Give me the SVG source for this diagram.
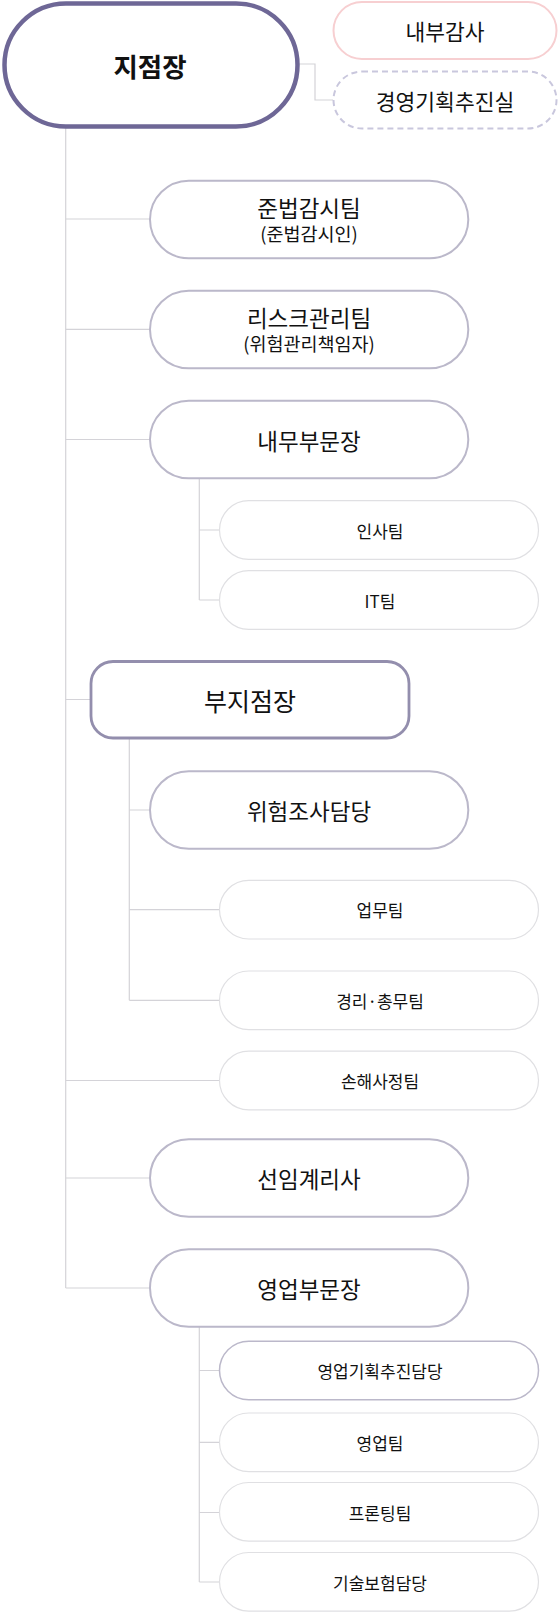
<svg xmlns="http://www.w3.org/2000/svg" width="559" height="1621" viewBox="0 0 559 1621">
<style>
text{font-family:"Noto Sans CJK KR","Noto Sans",sans-serif;fill:#111;text-anchor:middle;dominant-baseline:central}
.m rect{fill:#fff;stroke:#bbb8ca;stroke-width:2}
.s rect{fill:#fff;stroke:#e0e0e3;stroke-width:1.2}
.m text{font-size:22.5px}
.s text{font-size:17px}
.c{fill:none;stroke:#d4d3d8;stroke-width:1.2}
</style>
<rect width="559" height="1621" fill="#fff"/>
<g id="connectors">
<path class="c" d="M298 64H315V100H333"/>
<path class="c" d="M65.7 127V1288"/>
<path class="c" d="M65.7 219H150M65.7 329.3H150M65.7 439.5H150M65.7 699.5H90M65.7 1080.5H219.5M65.7 1178H150M65.7 1288H150"/>
<path class="c" d="M199.3 478.3V600M199.3 530H219.5M199.3 600H219.5"/>
<path class="c" d="M129.3 738.3V1000.3M129.3 810H150M129.3 909.7H219.5M129.3 1000.3H219.5"/>
<path class="c" d="M199.3 1327V1582M199.3 1370.5H219.5M199.3 1442.3H219.5M199.3 1512.5H219.5M199.3 1582H219.5"/>
</g>
<g id="n-jijeomjang">
<rect x="4.5" y="3.5" width="293" height="123" rx="61.5" fill="#fff" stroke="#6e6796" stroke-width="4.5"/>
<text x="150" y="65" style="font-size:26.5px;font-weight:700">지점장</text>
</g>
<g id="n-audit">
<rect x="333.5" y="2" width="223" height="57" rx="28.5" fill="#fff" stroke="#f7cfd1" stroke-width="2"/>
<text x="445" y="30.5" style="font-size:21.5px">내부감사</text>
</g>
<g id="n-mgmt">
<rect x="333.5" y="71.5" width="223" height="57" rx="28.5" fill="#fff" stroke="#c9c7dd" stroke-width="2" stroke-dasharray="6 4"/>
<text x="445" y="100" style="font-size:21.5px">경영기획추진실</text>
</g>
<g id="n-compliance" class="m">
<rect x="150" y="180.7" width="318.3" height="77.6" rx="38.8"/>
<text x="309" y="206.5">준법감시팀</text>
<text x="309" y="233" style="font-size:18.5px">(준법감시인)</text>
</g>
<g id="n-risk" class="m">
<rect x="150" y="290.7" width="318.3" height="77.6" rx="38.8"/>
<text x="309" y="316.5">리스크관리팀</text>
<text x="309" y="343" style="font-size:18.5px">(위험관리책임자)</text>
</g>
<g id="n-internal" class="m">
<rect x="150" y="400.7" width="318.3" height="77.6" rx="38.8"/>
<text x="309" y="439.5">내무부문장</text>
</g>
<g id="n-hr" class="s">
<rect x="219.5" y="500.7" width="319" height="58.6" rx="29.3"/>
<text x="380" y="530">인사팀</text>
</g>
<g id="n-it" class="s">
<rect x="219.5" y="570.7" width="319" height="58.6" rx="29.3"/>
<text x="380" y="600">IT팀</text>
</g>
<g id="n-deputy">
<rect x="91" y="661.5" width="318" height="76.5" rx="22" fill="#fff" stroke="#938ead" stroke-width="2.8"/>
<text x="250" y="699.5" style="font-size:25px">부지점장</text>
</g>
<g id="n-riskinv" class="m">
<rect x="150" y="771.2" width="318.3" height="77.6" rx="38.8"/>
<text x="309" y="810">위험조사담당</text>
</g>
<g id="n-ops" class="s">
<rect x="219.5" y="880.4" width="319" height="58.6" rx="29.3"/>
<text x="380" y="909.7">업무팀</text>
</g>
<g id="n-acct" class="s">
<rect x="219.5" y="971" width="319" height="58.6" rx="29.3"/>
<text x="380" y="1000.3">경리·총무팀</text>
</g>
<g id="n-claims" class="s">
<rect x="219.5" y="1051.2" width="319" height="58.6" rx="29.3"/>
<text x="380" y="1080.5">손해사정팀</text>
</g>
<g id="n-actuary" class="m">
<rect x="150" y="1139.2" width="318.3" height="77.6" rx="38.8"/>
<text x="309" y="1178">선임계리사</text>
</g>
<g id="n-sales" class="m">
<rect x="150" y="1249.2" width="318.3" height="77.6" rx="38.8"/>
<text x="309" y="1288">영업부문장</text>
</g>
<g id="n-salesplan">
<rect x="219.5" y="1341.2" width="319" height="58.6" rx="29.3" fill="#fff" stroke="#bbb8ca" stroke-width="1.5"/>
<text x="380" y="1370.5" style="font-size:17px">영업기획추진담당</text>
</g>
<g id="n-salesteam" class="s">
<rect x="219.5" y="1413" width="319" height="58.6" rx="29.3"/>
<text x="380" y="1442.3">영업팀</text>
</g>
<g id="n-fronting" class="s">
<rect x="219.5" y="1482.5" width="319" height="58.6" rx="29.3"/>
<text x="380" y="1512">프론팅팀</text>
</g>
<g id="n-techins" class="s">
<rect x="219.5" y="1552.5" width="319" height="58.6" rx="29.3"/>
<text x="380" y="1582">기술보험담당</text>
</g>
</svg>
